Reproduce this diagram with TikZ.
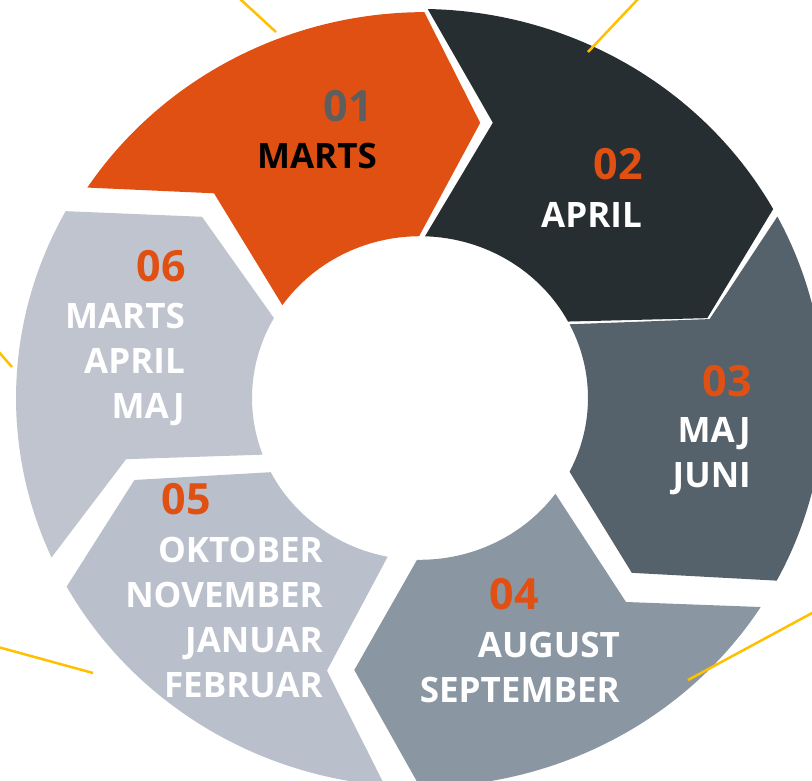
\documentclass[tikz,border=0pt]{standalone}
\usepackage{fontspec}
\setmainfont{Open Sans}
\definecolor{ringorange}{HTML}{E05013}
\definecolor{ringdark}{HTML}{272E32}
\definecolor{ringslate}{HTML}{55616B}
\definecolor{ringsteel}{HTML}{8A96A2}
\definecolor{ringmist}{HTML}{B9BFCB}
\definecolor{ringpale}{HTML}{BFC4CE}
\definecolor{numgray}{HTML}{5E5E5E}
\definecolor{raygold}{HTML}{FFC000}
\tikzset{
  numlbl/.style={anchor=base east, inner sep=0pt, text=ringorange,
    font=\fontsize{43}{43}\selectfont\bfseries},
  monlbl/.style={anchor=north east, inner sep=0pt, align=right, text=white,
    font=\fontsize{35}{45}\selectfont\bfseries},
  ray/.style={draw=raygold, line width=2.5pt}
}
\begin{document}
\begin{tikzpicture}[x=1pt,y=1pt]
        \useasboundingbox (0,0) rectangle (812,780);
        \clip (0,0) rectangle (812,780);

        % ring segments
        \begin{scope}[shift={(420,382)}, yscale=0.963]
        \fill[ringorange] (146.7:398) arc[start angle=146.7, end angle=90.1, radius=404]
            -- (78.1:292) -- (90.3:168) arc[start angle=90.3, end angle=145, radius=168]
            -- (134.1:296) -- cycle;
        \fill[ringdark] (88.9:404) arc[start angle=88.9, end angle=29.05, radius=404]
            -- (16.1:299) -- (28.2:168) arc[start angle=28.2, end angle=88.3, radius=168]
            -- (75.7:295) -- cycle;
        \fill[ringslate] (27.8:404) arc[start angle=27.8, end angle=-28, radius=404]
            -- (-40.6:279) -- (-27.1:168) arc[start angle=-27.1, end angle=27.1, radius=168]
            -- (15.8:301) -- cycle;
        \fill[ringsteel] (-32.5:404) arc[start angle=-32.5, end angle=-90, radius=404]
            -- (-103.1:290) -- (-91:168) arc[start angle=-91, end angle=-36.3, radius=168]
            -- (-45.8:295.5) -- cycle;
        \fill[ringmist] (-95:404) arc[start angle=-95, end angle=-151, radius=404]
            -- (-163.4:298) -- (-152.7:168) arc[start angle=-152.7, end angle=-101.1, radius=168]
            -- (-108.2:298) -- cycle;
        \fill[ringpale] (204.2:404) arc[start angle=204.2, end angle=151.3, radius=404]
            -- (139.2:288) -- (150.4:168) arc[start angle=150.4, end angle=200.5, radius=168]
            -- (192.2:300.7) -- cycle;
        \end{scope}

        % rays
        \draw[ray] (239,782)--(276,748);
        \draw[ray] (639,782)--(588,728);
        \draw[ray] (-2,429)--(12,413);
        \draw[ray] (-2,133)--(93,107);
        \draw[ray] (814,168)--(688,100);

        % labels
        \node (num01) [numlbl, text=numgray] at (373,658) {01};
        \node (mon01) [monlbl, text=black] at (377,637) {MARTS};
        \node (num02) [numlbl] at (643,600) {02};
        \node (mon02) [monlbl] at (642,578) {APRIL};
        \node (num03) [numlbl] at (752,383) {03};
        \node (mon03) [monlbl] at (751,363) {MAJ\\JUNI};
        \node (num04) [numlbl] at (539,170) {04};
        \node (mon04) [monlbl] at (620,148) {AUGUST\\SEPTEMBER};
        \node (num05) [numlbl] at (211,265) {05};
        \node (mon05) [monlbl] at (323,243) {OKTOBER\\NOVEMBER\\JANUAR\\FEBRUAR};
        \node (num06) [numlbl] at (186,498) {06};
        \node (mon06) [monlbl] at (185,477) {MARTS\\APRIL\\MAJ};
    \end{tikzpicture}
\end{document}
